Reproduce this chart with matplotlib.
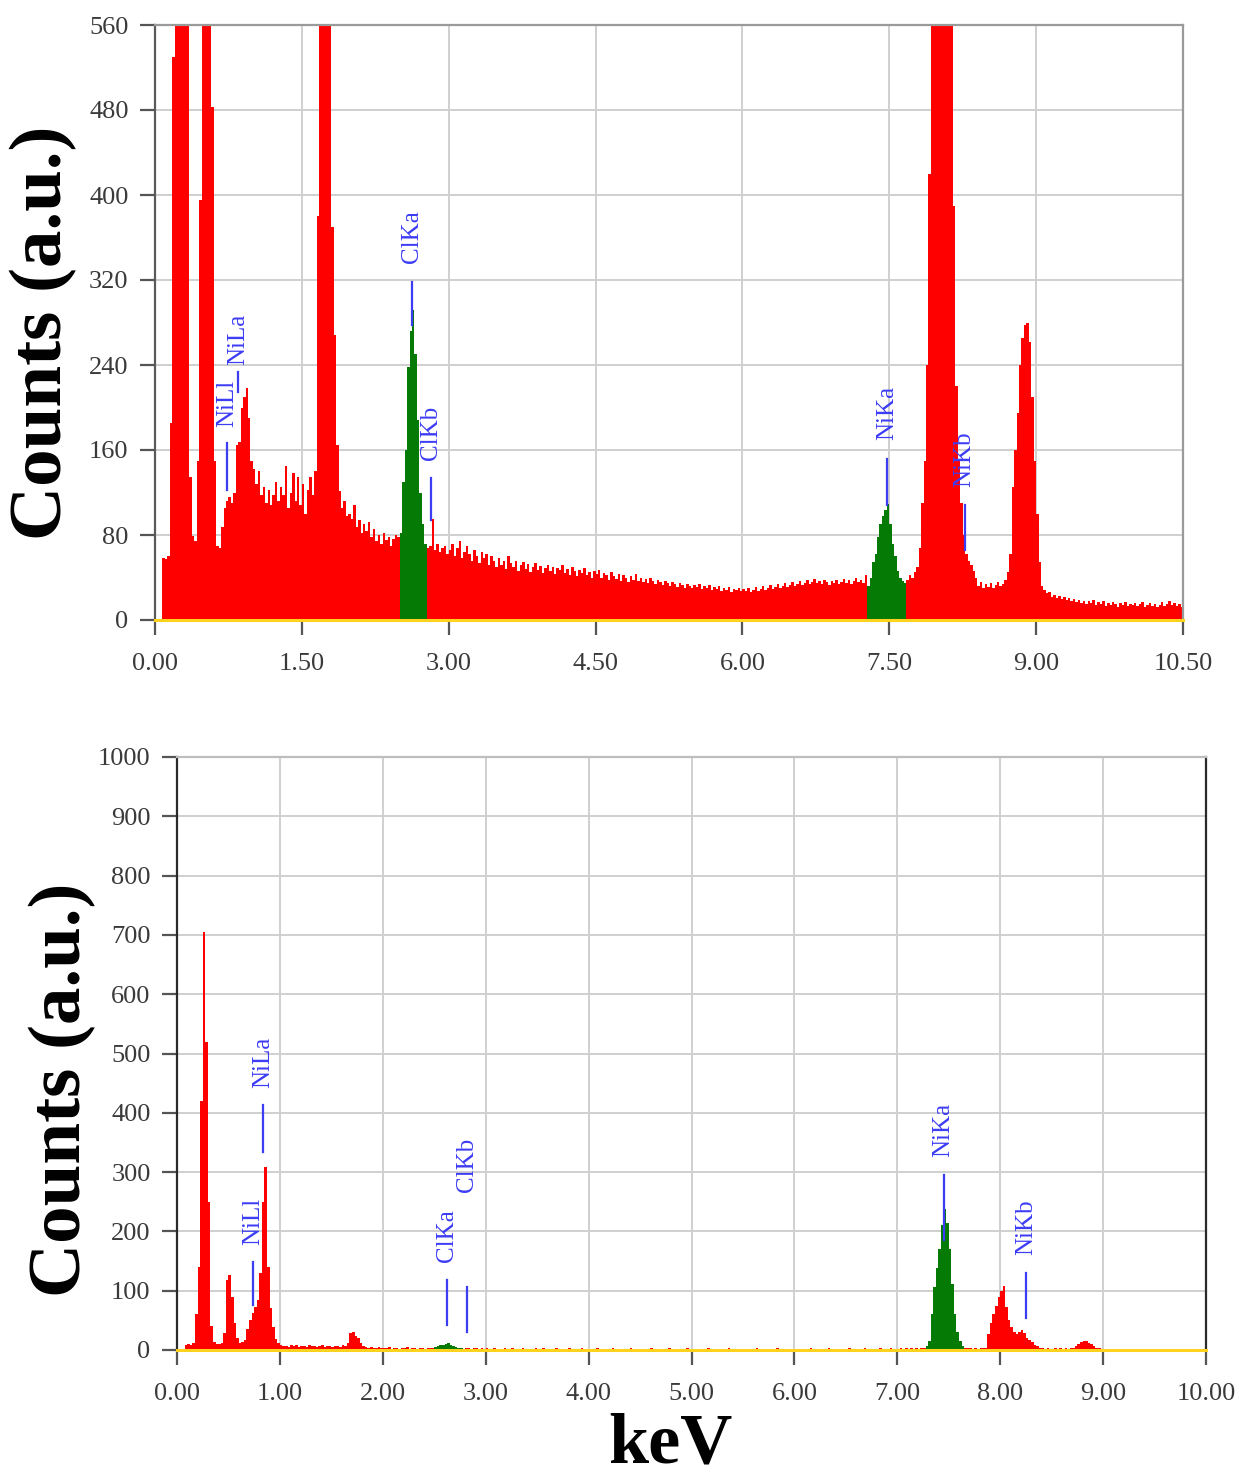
import numpy as np
import matplotlib
matplotlib.use("Agg")
import matplotlib.pyplot as plt
from matplotlib.ticker import FixedLocator, FormatStrFormatter

plt.rcParams['font.family'] = ['Liberation Serif', 'DejaVu Serif']

# ---------------- data ----------------
BIN = 0.025  # keV per channel

# Top spectrum: counts per 0.025 keV channel, 0.000 .. 10.475 keV (20 channels per row)
top_counts = [
    0, 0, 0, 58, 57, 60, 185, 530, 900, 1200, 1300, 1200, 1000, 800, 135, 79, 74, 150, 395, 700,
    900, 1000, 800, 483, 150, 70, 68, 88, 105, 112, 116, 110, 120, 165, 168, 200, 210, 218, 190, 150,
    142, 128, 140, 118, 125, 110, 122, 108, 118, 130, 112, 125, 118, 145, 105, 120, 138, 112, 135, 108,
    128, 100, 122, 135, 118, 140, 380, 700, 1000, 1200, 1100, 800, 370, 268, 165, 121, 105, 112, 98, 100,
    95, 108, 88, 94, 82, 90, 84, 92, 78, 86, 74, 80, 72, 82, 75, 78, 70, 76, 80, 78,
    82, 130, 160, 238, 272, 292, 250, 188, 120, 90, 72, 68, 70, 95, 66, 72, 64, 68, 70, 62,
    66, 72, 60, 68, 74, 58, 64, 70, 62, 56, 66, 60, 54, 64, 58, 62, 52, 60, 56, 50,
    58, 52, 56, 48, 60, 54, 50, 56, 46, 52, 55, 48, 53, 45, 50, 54, 47, 51, 44, 49,
    52, 46, 50, 43, 49, 47, 52, 44, 48, 42, 50, 46, 41, 47, 44, 49, 42, 45, 40, 46,
    43, 47, 40, 44, 42, 38, 45, 41, 39, 43, 37, 42, 40, 36, 41, 38, 43, 37, 40, 36,
    39, 35, 40, 37, 34, 38, 36, 33, 37, 35, 32, 36, 34, 31, 35, 33, 30, 34, 32, 30,
    33, 31, 34, 29, 32, 30, 33, 28, 31, 29, 32, 27, 30, 28, 31, 26, 29, 28, 30, 27,
    29, 27, 30, 26, 28, 31, 27, 29, 32, 28, 30, 33, 29, 31, 34, 30, 32, 35, 31, 33,
    36, 32, 34, 37, 33, 35, 38, 34, 36, 39, 35, 37, 34, 38, 36, 33, 37, 35, 38, 34,
    36, 39, 35, 38, 34, 37, 40, 36, 38, 35, 42, 32, 40, 55, 62, 78, 90, 98, 104, 109,
    90, 72, 60, 46, 40, 37, 35, 38, 42, 40, 45, 50, 68, 110, 150, 240, 420, 700, 900, 1100,
    1200, 1250, 1200, 1050, 900, 700, 390, 220, 150, 110, 80, 62, 56, 52, 46, 40, 32, 36, 30, 34,
    31, 35, 30, 33, 36, 32, 34, 38, 45, 62, 125, 160, 195, 240, 265, 278, 280, 262, 210, 150,
    100, 55, 32, 28, 25, 26, 22, 24, 21, 23, 20, 22, 19, 21, 18, 20, 17, 19, 16, 18,
    15, 18, 16, 19, 14, 17, 15, 18, 13, 16, 14, 17, 15, 12, 16, 14, 17, 13, 15, 14,
    16, 13, 15, 17, 12, 14, 16, 13, 15, 12, 14, 17, 13, 15, 18, 14, 16, 13, 15, 12,
]
# energy windows of the identified (green) peaks, keV
top_green = [(2.5, 2.775), (7.275, 7.675)]

# Bottom spectrum: counts per 0.025 keV channel, 0.000 .. 9.975 keV
bot_counts = [
    0, 0, 0, 8, 10, 9, 12, 60, 140, 420, 705, 520, 250, 40, 14, 10, 10, 12, 28, 118,
    127, 90, 45, 20, 11, 14, 17, 35, 51, 62, 73, 85, 130, 250, 309, 140, 70, 39, 18, 11,
    8, 6, 7, 5, 8, 6, 9, 5, 7, 6, 5, 8, 6, 7, 5, 6, 8, 5, 7, 6,
    5, 7, 6, 5, 8, 6, 12, 28, 31, 24, 20, 11, 7, 5, 4, 5, 3, 4, 5, 3,
    4, 3, 5, 2, 4, 3, 2, 4, 3, 5, 2, 3, 4, 2, 3, 4, 2, 3, 4, 3,
    5, 6, 8, 9, 10, 11, 9, 7, 5, 4, 3, 2, 4, 3, 2, 3, 4, 2, 3, 2,
    3, 2, 1, 3, 2, 0, 2, 3, 1, 2, 3, 1, 0, 2, 3, 2, 1, 2, 0, 3,
    2, 1, 3, 0, 2, 1, 2, 3, 1, 0, 2, 1, 3, 2, 0, 1, 2, 3, 1, 2,
    1, 2, 0, 3, 1, 2, 1, 0, 2, 3, 1, 2, 0, 1, 2, 1, 3, 0, 2, 1,
    2, 0, 1, 2, 3, 1, 0, 2, 1, 2, 0, 3, 1, 2, 1, 0, 2, 1, 3, 1,
    1, 2, 1, 0, 2, 1, 3, 1, 0, 2, 1, 2, 0, 1, 3, 2, 1, 0, 2, 1,
    0, 2, 1, 2, 1, 3, 0, 1, 2, 1, 0, 2, 1, 3, 1, 0, 2, 1, 2, 0,
    2, 1, 0, 2, 1, 2, 3, 1, 0, 2, 1, 2, 0, 3, 1, 2, 1, 0, 2, 1,
    1, 3, 2, 1, 0, 2, 1, 3, 2, 1, 2, 0, 1, 3, 2, 1, 2, 3, 1, 2,
    2, 3, 2, 3, 2, 3, 2, 3, 2, 3, 3, 6, 16, 60, 106, 139, 170, 210, 238, 215,
    170, 111, 60, 30, 16, 6, 3, 4, 3, 2, 3, 2, 3, 3, 4, 27, 45, 61, 75, 89,
    100, 108, 72, 50, 38, 30, 27, 30, 33, 28, 21, 17, 13, 9, 6, 4, 3, 2, 3, 2,
    2, 3, 2, 3, 2, 3, 2, 3, 4, 6, 10, 13, 16, 15, 12, 10, 6, 4, 3, 2,
    2, 1, 0, 2, 1, 0, 1, 2, 0, 1, 0, 2, 1, 0, 1, 0, 2, 1, 0, 1,
    0, 1, 0, 2, 0, 1, 0, 0, 1, 0, 2, 0, 1, 0, 0, 1, 0, 2, 0, 1,
]
bot_green = [(2.5, 2.775), (7.275, 7.65)]

# peak markers: (label, energy keV, marker top, marker bottom, label base) in counts
top_marks = [
    ("NiLl", 0.74, 167, 122, 182),
    ("NiLa", 0.85, 233, 215, 240),
    ("ClKa", 2.625, 318, 278, 336),
    ("ClKb", 2.82, 134, 94, 151),
    ("NiKa", 7.48, 152, 108, 169),
    ("NiKb", 8.27, 108, 66, 125),
]
bot_marks = [
    ("NiLl", 0.74, 148, 76, 177),
    ("NiLa", 0.836, 413, 334, 442),
    ("ClKa", 2.62, 118, 42, 148),
    ("ClKb", 2.82, 106, 30, 266),
    ("NiKa", 7.45, 295, 185, 325),
    ("NiKb", 8.25, 130, 54, 160),
]

top_xticks = [0.0, 1.5, 3.0, 4.5, 6.0, 7.5, 9.0, 10.5]
top_yticks = [0, 80, 160, 240, 320, 400, 480, 560]
bot_xticks = [0, 1, 2, 3, 4, 5, 6, 7, 8, 9, 10]
bot_yticks = [0, 100, 200, 300, 400, 500, 600, 700, 800, 900, 1000]

RED = "#FF0000"
GREEN = "#057A05"
BLUE = "#3C3CF5"
GRID = "#CFCFCF"
TICKC = "#3A3A3A"


def draw(ax, counts, green, marks, xticks, yticks, xlim, ylim, spine_cols):
    counts = np.asarray(counts, dtype=float)
    edges = np.arange(len(counts) + 1) * BIN
    e = edges[:-1]
    is_green = np.zeros(len(e), bool)
    for a, b in green:
        is_green |= (e >= a - 1e-9) & (e < b - 1e-9)
    ax.stairs(counts, edges, fill=True, color=RED, lw=0, zorder=2)
    ax.stairs(np.where(is_green, counts, 0.0), edges, fill=True,
              color=GREEN, lw=0, zorder=2.5)
    ax.axhline(0, color="#FFD21E", lw=2.2, zorder=3, clip_on=False)
    for lab, en, t, b, base in marks:
        ax.plot([en, en], [b, t], color=BLUE, lw=1.6, zorder=4)
        ax.text(en, base, lab, rotation=90, ha="center", va="bottom",
                color=BLUE, fontsize=18, zorder=5)
    ax.set_xlim(*xlim)
    ax.set_ylim(*ylim)
    ax.xaxis.set_major_locator(FixedLocator(xticks))
    ax.yaxis.set_major_locator(FixedLocator(yticks))
    ax.xaxis.set_major_formatter(FormatStrFormatter("%.2f"))
    ax.yaxis.set_major_formatter(FormatStrFormatter("%d"))
    ax.grid(True, color=GRID, lw=1.4, zorder=0)
    ax.set_axisbelow(True)
    ax.tick_params(axis="both", direction="out", length=11, width=1.6,
                   color="#555555", labelsize=19, labelcolor=TICKC)
    ax.tick_params(axis="x", pad=13)
    ax.tick_params(axis="y", pad=8)
    ax.spines["bottom"].set_visible(False)
    ax.spines["left"].set_color(spine_cols[0])
    ax.spines["top"].set_color(spine_cols[1])
    ax.spines["right"].set_color(spine_cols[2])
    for s in ("left", "top", "right"):
        ax.spines[s].set_linewidth(1.6)


fig = plt.figure(figsize=(12.4, 14.83), dpi=100)
W, H = 1240.0, 1483.0

ax1 = fig.add_axes([155 / W, (H - 620) / H, 1028 / W, 595 / H])
draw(ax1, top_counts, top_green, top_marks, top_xticks, top_yticks,
     (0, 10.5), (0, 560), ("#5A5A5A", "#9A9A9A", "#9A9A9A"))

ax2 = fig.add_axes([177 / W, (H - 1350) / H, 1029 / W, 593 / H])
draw(ax2, bot_counts, bot_green, bot_marks, bot_xticks, bot_yticks,
     (0, 10), (0, 1000), ("#2A2A2A", "#BDBDBD", "#2A2A2A"))

fig.text(43 / W, 1 - 333 / H, "Counts (a.u.)", rotation=90, ha="center",
         va="center", fontsize=54, fontweight="bold")
fig.text(62 / W, 1 - 1090 / H, "Counts (a.u.)", rotation=90, ha="center",
         va="center", fontsize=54, fontweight="bold")
fig.text(670 / W, 1 - 1445 / H, "keV", ha="center", va="center",
         fontsize=52, fontweight="bold")

fig.savefig("out.png", dpi=100)
